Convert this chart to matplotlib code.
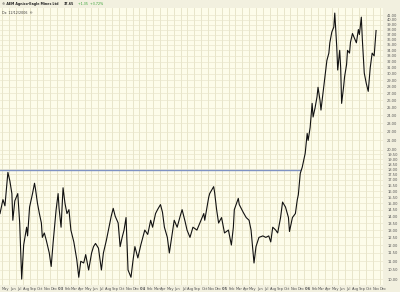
import matplotlib.pyplot as plt
import numpy as np

months = [
    -0.32, 0.11, 0.40, 0.83, 1.12, 1.41, 1.55, 1.84, 2.27, 2.55,
    2.84, 3.13, 3.56, 3.70, 3.99, 4.42, 4.71, 4.85, 5.14, 5.42,
    5.71, 5.85, 6.14, 6.43, 6.86, 7.14, 7.43, 7.86, 8.15, 8.29,
    8.58, 8.87, 9.15, 9.44, 9.73, 10.01, 10.44, 10.87, 11.16, 11.45,
    11.88, 12.17, 12.60, 13.03, 13.31, 13.60, 14.03, 14.46, 14.75, 15.18,
    15.61, 15.89, 16.18, 16.47, 16.90, 17.19, 17.48, 17.76, 18.05, 18.34,
    18.77, 19.05, 19.34, 19.77, 20.20, 20.78, 21.21, 21.64, 21.92, 22.35,
    22.64, 23.07, 23.36, 23.64, 24.07, 24.36, 24.79, 25.07, 25.50, 25.94,
    26.22, 26.66, 26.94, 27.37, 27.80, 28.38,
    28.81, 29.38, 29.52, 30.10, 30.24, 30.82, 30.96, 31.25, 31.54, 31.97,
    32.40, 32.97, 33.40, 33.69, 33.83, 34.41, 34.55, 35.12, 35.56, 35.98,
    36.27, 36.56, 36.70, 36.99, 37.42, 37.99, 38.42, 38.85, 39.14, 39.43,
    39.86, 40.15, 40.57, 40.86, 41.29, 41.72, 41.87, 42.30, 42.73, 43.01,
    43.16, 43.44, 43.73, 44.16, 44.45, 44.59, 44.88,
    45.17, 45.31, 45.60, 45.88, 46.03, 46.32, 46.46, 46.75, 47.03, 47.32,
    47.61, 47.75, 48.04, 48.33, 48.47, 48.76, 48.90, 49.19, 49.33, 49.47,
    49.76, 49.90, 50.19, 50.33, 50.62, 50.76, 51.05, 51.34, 51.62, 51.91,
    52.06, 52.34, 52.49, 52.77, 53.06, 53.35, 53.64, 53.92, 54.21, 54.49,
]
price = [
    14.2, 15.3, 14.8, 17.7, 16.9, 15.8, 13.7, 15.2, 15.8, 13.5,
    10.0, 12.0, 13.2, 12.6, 14.7, 15.8, 16.7, 16.2, 15.0, 14.2,
    13.5, 12.5, 12.8, 12.3, 11.5, 10.7, 12.2, 14.5, 15.8, 14.6,
    13.2, 16.3, 15.0, 14.2, 14.5, 13.0, 12.2, 11.1, 10.1, 11.0,
    10.9, 11.4, 10.5, 11.5, 11.9, 12.1, 11.8, 10.5, 11.5, 12.3,
    13.3, 14.0, 14.6, 14.0, 13.5, 11.9, 12.5, 13.0, 13.9, 10.5,
    10.1, 11.0, 11.9, 11.2, 12.0, 13.0, 12.7, 13.7, 13.2, 14.2,
    14.5, 14.9, 14.3, 13.2, 12.5, 11.5, 12.8, 13.7, 13.2, 14.0,
    14.5, 13.6, 13.0, 12.5, 13.2, 13.0,
    13.5, 14.2, 13.7, 15.5, 15.8, 16.4, 15.9, 14.5, 13.5, 13.9,
    12.8, 13.0, 12.0, 13.2, 14.5, 15.4, 14.9, 14.3, 13.9, 13.7,
    13.0, 11.5, 10.9, 11.9, 12.5, 12.6, 12.5, 12.6, 12.2, 13.2,
    13.0, 12.8, 13.9, 15.1, 14.7, 13.9, 12.9, 13.9, 14.2, 15.3,
    15.7, 17.6, 18.2, 19.6, 21.8, 21.0, 22.5,
    25.6, 23.8, 25.0, 26.5, 27.9, 26.0, 24.7, 27.0, 29.5, 32.2,
    33.5, 35.4, 37.5, 38.5, 41.5, 34.6, 30.6, 34.0, 31.0, 25.6,
    28.0, 29.5, 31.5, 34.0, 33.5, 35.5, 37.2, 36.3, 35.4, 38.0,
    37.0, 40.6, 36.0, 30.1, 28.5, 27.3, 31.0, 33.5, 33.0, 37.8,
]

month_names = ["May", "Jun", "Jul", "Aug", "Sep", "Oct", "Nov", "Dec",
               "'03", "Feb", "Mar", "Apr", "May", "Jun", "Jul", "Aug", "Sep", "Oct", "Nov", "Dec",
               "'04", "Feb", "Mar", "Apr", "May", "Jun", "Jul", "Aug", "Sep", "Oct", "Nov", "Dec",
               "'05", "Feb", "Mar", "Apr", "May", "Jun", "Jul", "Aug", "Sep", "Oct", "Nov", "Dec",
               "'06", "Feb", "Mar", "Apr", "May", "Jun", "Jul", "Aug", "Sep", "Oct", "Nov", "Dec"]

price_ticks = list(np.arange(10.0, 20.0, 0.5)) + list(np.arange(20.0, 42.0, 1.0))
resistance = 17.9
resistance_end = 43.44

fig = plt.figure(figsize=(4, 2.92), dpi=100, facecolor="#f2f0df")
ax = fig.add_axes([0.0, 0.024, 0.9575, 0.948])
ax.set_facecolor("#fdfcea")

ax.set_yscale("log")
ax.set_ylim(9.69, 42.6)
ax.set_xlim(-0.32, 54.6)

# grid
for m in range(len(month_names)):
    ax.axvline(m, color="#e5e1c4", lw=0.6, zorder=0)
for p in price_ticks:
    ax.axhline(p, color="#e9e6cc", lw=0.5, zorder=0)

# price
ax.plot(months, price, color="#111111", lw=0.8, zorder=3)
ax.plot([-0.32, resistance_end], [resistance, resistance], color="#7f93c4", lw=1.0, zorder=2)

# axes text
ax.yaxis.tick_right()
ax.set_yticks(price_ticks)
ax.set_yticklabels(["%.2f" % p for p in price_ticks], fontsize=2.6, color="#555555")
ax.yaxis.set_minor_locator(plt.NullLocator())
ax.yaxis.set_minor_formatter(plt.NullFormatter())
ax.tick_params(axis="y", length=0, pad=3)
ax.set_xticks([m + 0.5 for m in range(len(month_names))])
ax.set_xticklabels(month_names, fontsize=2.6, color="#555555")
ax.tick_params(axis="x", length=0, pad=1.5)
for lbl in ax.get_xticklabels():
    if lbl.get_text().startswith("'"):
        lbl.set_fontweight("bold")
for s in ax.spines.values():
    s.set_visible(False)

# header, pieces chained one after another
t1 = fig.text(0.005, 0.985, "\u00a9 AEM Agnico-Eagle Mines Ltd", fontsize=2.3, color="#222222",
              fontweight="bold", va="center")
t2 = ax.annotate("37.65", xy=(1, 0.5), xycoords=t1, xytext=(4, 0), textcoords="offset points",
                 fontsize=2.3, color="#222222", va="center", fontweight="bold", annotation_clip=False)
ax.annotate("+1.35  +3.72%", xy=(1, 0.5), xycoords=t2, xytext=(3, 0), textcoords="offset points",
            fontsize=2.3, color="#2e9e2e", va="center", annotation_clip=False)
fig.text(0.005, 0.955, "Dx  12/12/2006  \u00ae", fontsize=2.3, color="#333333", va="center")

fig.savefig("out.png", dpi=100, facecolor=fig.get_facecolor())
